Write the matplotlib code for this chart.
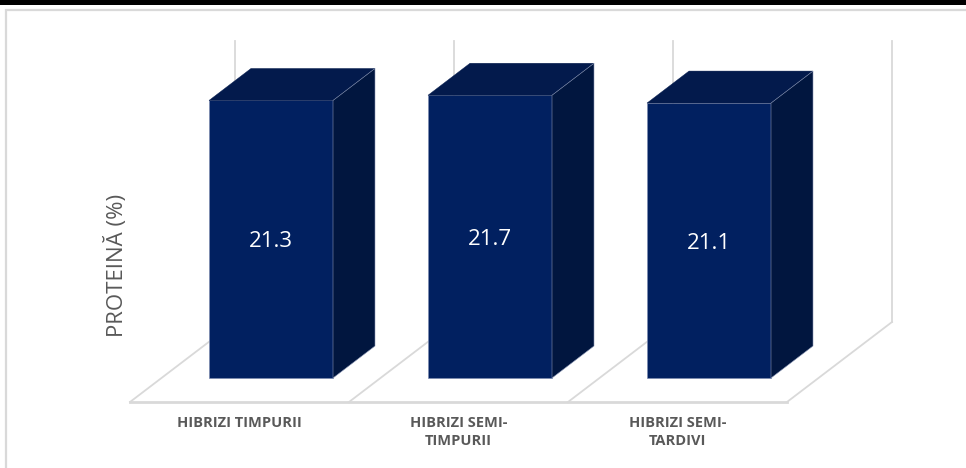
import matplotlib
matplotlib.use("Agg")
import matplotlib.pyplot as plt
from matplotlib.patches import Polygon, Rectangle
from matplotlib.lines import Line2D

plt.rcParams['font.family'] = ['Open Sans', 'DejaVu Sans']

# data
categories = ["HIBRIZI TIMPURII", "HIBRIZI SEMI-\nTIMPURII", "HIBRIZI SEMI-\nTARDIVI"]
protein = [21.3, 21.7, 21.1]
y_label = "PROTEINĂ (%)"
y_max = 21.55

# look of the fake 3d chart
front_col = "#012060"
top_col = "#031a4c"
side_col = "#01163f"
grid_col = "#d9d9d9"
text_col = "#595959"

W, H = 966, 468
fig = plt.figure(figsize=(W / 100, H / 100), dpi=100)
ax = fig.add_axes([0, 0, 1, 1])

# axes scale: one category = 219 px, 1 % = 13.03 px
px_x, px_y = 219.0, 13.03
x0_px, y0_px = 130.0, 402.0
ax.set_xlim(-0.5 - x0_px / px_x, -0.5 + (W - x0_px) / px_x)
ax.set_ylim((y0_px - H) / px_y, y0_px / px_y)
ax.axis("off")

# oblique depth (full floor depth) in data units
dx = 105 / px_x
dy = 80 / px_y
n = len(categories)

# floor and back wall
ax.add_line(Line2D([-0.5, n - 0.5], [0, 0], color=grid_col, lw=2, zorder=1))
for k in range(n + 1):
    xb = k - 0.5
    ax.add_line(Line2D([xb, xb + dx], [0, dy], color=grid_col, lw=1.3, zorder=1))
    ax.add_line(Line2D([xb + dx, xb + dx], [dy, dy + y_max], color=grid_col, lw=1.3, zorder=1))

# bars: front face, top, side
bw = 124 / px_x
d1, d2 = 0.3, 0.7
for i, v in enumerate(protein):
    xl = i - bw / 2 + d1 * dx
    xr = xl + bw
    yb = d1 * dy
    ox, oy = (d2 - d1) * dx, (d2 - d1) * dy
    front = Polygon([(xl, yb), (xr, yb), (xr, yb + v), (xl, yb + v)],
                    closed=True, fc=front_col, ec="#7d8bb0", lw=0.5, zorder=3)
    top = Polygon([(xl, yb + v), (xr, yb + v), (xr + ox, yb + v + oy), (xl + ox, yb + v + oy)],
                  closed=True, fc=top_col, ec=top_col, lw=0.3, zorder=3)
    side = Polygon([(xr, yb), (xr + ox, yb + oy), (xr + ox, yb + oy + v), (xr, yb + v)],
                   closed=True, fc=side_col, ec="#8a96b5", lw=0.4, zorder=3)
    for p in (front, top, side):
        ax.add_patch(p)
    ax.text((xl + xr) / 2, yb + v / 2 - 0.2, f"{v:.1f}", color="white", fontsize=16,
            ha="center", va="center", zorder=4)

# category labels under the front edge
for i, lab in enumerate(categories):
    ax.text(i, -14 / px_y, lab, color=text_col, fontsize=10.5, fontweight="bold",
            ha="center", va="top", linespacing=1.4, zorder=4)

fig.text(116 / W, 1 - 265 / H, y_label, rotation=90, color=text_col,
         fontsize=16, ha="center", va="center")

# frame and dark strip along the top
fig.patches.append(Rectangle((6 / W, -0.1), 1.2, 1 - 9.5 / H + 0.1, transform=fig.transFigure,
                             fill=False, ec=grid_col, lw=1.6, zorder=0))
fig.patches.append(Rectangle((0, 1 - 5 / H), 1, 5 / H, transform=fig.transFigure,
                             fc="black", ec="none", zorder=5))

fig.savefig("out.png", dpi=100)
